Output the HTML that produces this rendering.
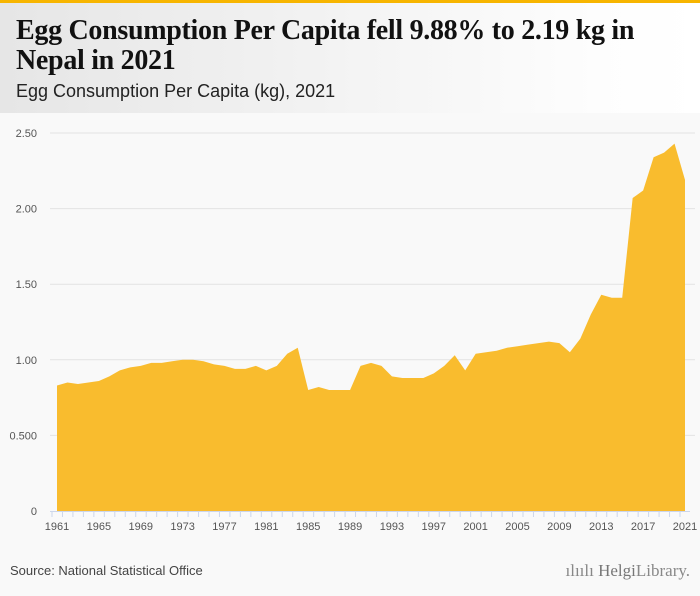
<!DOCTYPE html>
<html><head><meta charset="utf-8"><style>
body{margin:0;width:700px;height:596px;overflow:hidden;background:#f9f9f9;font-family:"Liberation Sans",sans-serif}
#top{position:absolute;left:0;top:0;width:700px;height:3px;background:#f7b500}
#hdr{position:absolute;left:0;top:3px;width:700px;height:110px;background:linear-gradient(90deg,#e6e6e6,#fdfdfd 85%,#fff)}
h1{position:absolute;left:16px;top:16px;width:670px;margin:0;font:bold 28px/30px "Liberation Serif",serif;color:#111;letter-spacing:-0.3px}
#sub{position:absolute;left:16px;top:81px;font-size:18px;color:#222}
#src{position:absolute;left:10px;top:563px;font-size:13px;color:#444}
#logo{position:absolute;right:10px;top:561px;font:17px "Liberation Serif",serif;color:#888}
svg{position:absolute;left:0;top:0}
</style></head><body>
<div id="top"></div>
<div id="hdr"></div>
<h1>Egg Consumption Per Capita fell 9.88% to 2.19 kg in<br>Nepal in 2021</h1>
<div id="sub">Egg Consumption Per Capita (kg), 2021</div>
<svg id="chart" width="700" height="596"></svg>
<div id="src">Source: National Statistical Office</div>
<div id="logo">ılıılı <b style="font-weight:normal;color:#777">Helgi</b>Library.</div>
<script>
const years=[];for(let y=1961;y<=2021;y++)years.push(y);
const values=[0.83,0.85,0.84,0.85,0.86,0.89,0.93,0.95,0.96,0.98,0.98,0.99,1.00,1.00,0.99,0.97,0.96,0.94,0.94,0.96,0.93,0.96,1.04,1.08,0.80,0.82,0.80,0.80,0.80,0.96,0.98,0.96,0.89,0.88,0.88,0.88,0.91,0.96,1.03,0.93,1.04,1.05,1.06,1.08,1.09,1.10,1.11,1.12,1.11,1.05,1.14,1.30,1.43,1.41,1.41,2.07,2.12,2.34,2.37,2.43,2.19];
const yTicks=[0,0.5,1,1.5,2,2.5];
const yTickLabels=["0","0.500","1.00","1.50","2.00","2.50"];
const xTickYears=[1961,1965,1969,1973,1977,1981,1985,1989,1993,1997,2001,2005,2009,2013,2017,2021];
const NS="http://www.w3.org/2000/svg",svg=document.getElementById('chart');
const x=v=>57+(v-1961)*(685-57)/60, y=v=>511-v*151.2;
function mk(t,a){const e=document.createElementNS(NS,t);for(const k in a)e.setAttribute(k,a[k]);svg.appendChild(e);return e;}
yTicks.forEach((t,i)=>{
 if(t>0){const g=mk('line',{x1:50,x2:695,y1:y(t),y2:y(t),stroke:'#e3e3e3','stroke-width':1});
 
 }
 const l=mk('text',{x:37,y:y(t)+4,'text-anchor':'end','font-size':11,fill:'#555','font-family':'Liberation Sans, sans-serif'});
 l.textContent=yTickLabels[i];
 
 
});
let d='M'+x(years[0])+','+y(0);
years.forEach((yr,i)=>{d+=' L'+x(yr)+','+y(values[i]);});
d+=' L'+x(years[years.length-1])+','+y(0)+' Z';
const area=mk('path',{d:d,fill:'#f9bc2e'});


const ax=mk('line',{x1:50,x2:690,y1:511.5,y2:511.5,stroke:'#ccd6eb'});


years.forEach(yr=>{const t=mk('line',{x1:x(yr)-5,x2:x(yr)-5,y1:511,y2:517,stroke:'#ccd6eb'});
 
 });
xTickYears.forEach(yr=>{const l=mk('text',{x:x(yr),y:530,'text-anchor':'middle','font-size':11,fill:'#555','font-family':'Liberation Sans, sans-serif'});
 l.textContent=yr;
 
 });
</script>
</body></html>
